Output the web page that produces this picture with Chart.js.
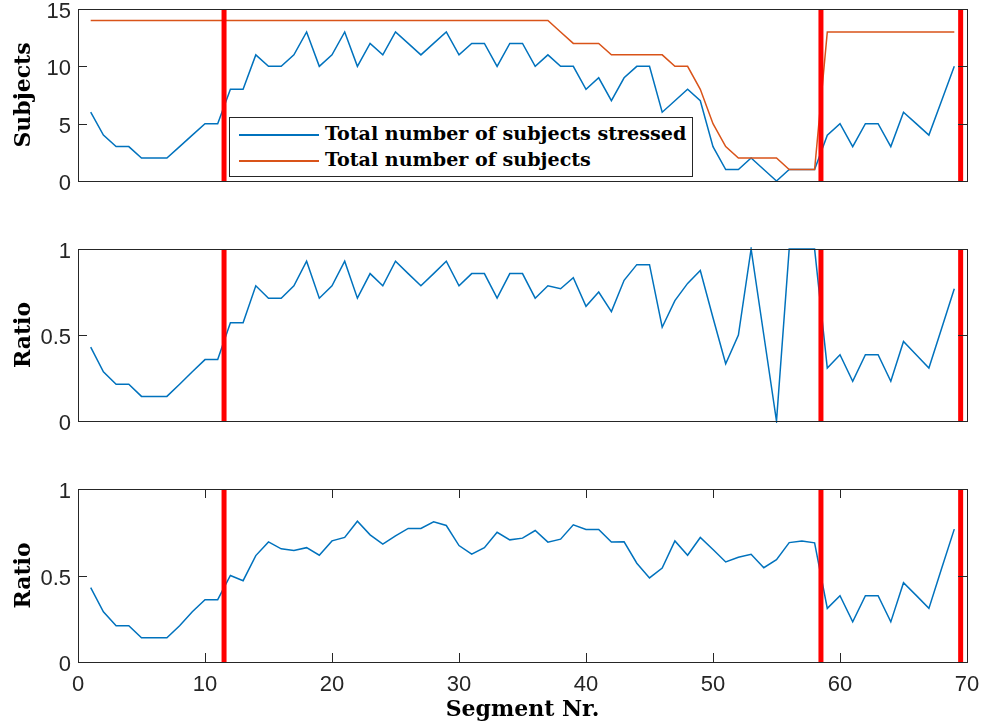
<!DOCTYPE html>
<html>
<head>
<meta charset="utf-8">
<script src="https://cdn.jsdelivr.net/npm/chart.js@4.4.1/dist/chart.umd.min.js"></script>
<style>
  html, body { margin: 0; padding: 0; background: #ffffff; }
  #wrap { position: relative; width: 982px; height: 727px; background: #ffffff; overflow: hidden; }
  #wrap canvas { position: absolute; left: 0; top: 0; }
  #legend { position: absolute; left: 229px; top: 117px; width: 464px; height: 60px;
            border: 1px solid #262626; background: #ffffff; box-sizing: border-box;
            font-family: 'DejaVu Serif', serif; font-weight: bold; font-size: 19.1px; color: #000; }
  #legend .ln { position: absolute; left: 9px; width: 80px; height: 1.5px; }
  #legend .tx { position: absolute; left: 95px; line-height: 22px; white-space: nowrap; }
</style>
</head>
<body>
<div id="wrap">
  <canvas id="c1" width="982" height="727"></canvas>
  <canvas id="c2" width="982" height="727"></canvas>
  <canvas id="c3" width="982" height="727"></canvas>
  <div id="legend">
    <div class="ln" style="top:16px;background:#0072BD"></div>
    <div class="tx" style="top:5px">Total number of subjects stressed</div>
    <div class="ln" style="top:42px;background:#D95319"></div>
    <div class="tx" style="top:31px">Total number of subjects</div>
  </div>
</div>
<script>
// ---------- DATA ----------
const segments = [1,2,3,4,5,6,7,8,9,10,11,12,13,14,15,16,17,18,19,20,21,22,23,24,25,26,27,28,29,30,31,32,33,34,35,36,37,38,39,40,41,42,43,44,45,46,47,48,49,50,51,52,53,54,55,56,57,58,59,60,61,62,63,64,65,66,67,68,69];
const subjectsStressed = [6,4,3,3,2,2,2,3,4,5,5,8,8,11,10,10,11,13,10,11,13,10,12,11,13,12,11,12,13,11,12,12,10,12,12,10,11,10,10,8,9,7,9,10,10,6,7,8,7,3,1,1,2,1,0,1,1,1,4,5,3,5,5,3,6,5,4,7,10];
const subjectsTotal = [14,14,14,14,14,14,14,14,14,14,14,14,14,14,14,14,14,14,14,14,14,14,14,14,14,14,14,14,14,14,14,14,14,14,14,14,14,13,12,12,12,11,11,11,11,11,10,10,8,5,3,2,2,2,2,1,1,1,13,13,13,13,13,13,13,13,13,13,13];
const ratioMiddle = [0.429,0.286,0.214,0.214,0.143,0.143,0.143,0.214,0.286,0.357,0.357,0.571,0.571,0.786,0.714,0.714,0.786,0.929,0.714,0.786,0.929,0.714,0.857,0.786,0.929,0.857,0.786,0.857,0.929,0.786,0.857,0.857,0.714,0.857,0.857,0.714,0.786,0.769,0.833,0.667,0.75,0.636,0.818,0.909,0.909,0.545,0.7,0.8,0.875,0.6,0.333,0.5,1,0.5,0,1,1,1,0.308,0.385,0.231,0.385,0.385,0.231,0.462,0.385,0.308,0.538,0.769];
const ratioBottom = [0.43,0.29,0.21,0.21,0.14,0.14,0.14,0.21,0.29,0.36,0.36,0.50,0.47,0.615,0.694,0.654,0.644,0.661,0.617,0.70,0.72,0.814,0.735,0.681,0.729,0.772,0.772,0.81,0.789,0.673,0.623,0.661,0.75,0.706,0.716,0.76,0.693,0.71,0.793,0.766,0.766,0.693,0.695,0.571,0.486,0.543,0.70,0.617,0.72,0.65,0.578,0.605,0.623,0.545,0.592,0.69,0.70,0.689,0.31,0.383,0.232,0.383,0.383,0.232,0.458,0.385,0.31,0.54,0.768];
const boundaries = [11.5, 58.5, 69.5];
const xTickValues = [0,10,20,30,40,50,60,70];
const labels = {
  top: 'Subjects', mid: 'Ratio', bot: 'Ratio', x: 'Segment Nr.',
  s1: 'Total number of subjects stressed', s2: 'Total number of subjects'
};

// ---------- STYLE ----------
const BLUE = '#0072BD', ORANGE = '#D95319', RED = '#FF0000', AX = '#262626';
const tickFont = { family: "'Liberation Sans', Arial, sans-serif", size: 22 };
const titleFont = { family: "'DejaVu Serif', serif", size: 22, weight: 'bold' };

const pts = (ys) => segments.map((x, i) => ({ x: x, y: ys[i] }));
const redSets = (ymin, ymax) => boundaries.map(b => ({
  label: 'boundary', data: [{ x: b, y: ymin }, { x: b, y: ymax }],
  borderColor: RED, borderWidth: 5, pointRadius: 0, order: 0, clip: false
}));

const boxPlugin = {
  id: 'boxAxes',
  afterDatasetsDraw(chart, args, opts) {
    const { ctx, chartArea: a } = chart;
    const L = Math.round(a.left), R = Math.round(a.right), T = Math.round(a.top), B = Math.round(a.bottom);
    ctx.save();
    ctx.strokeStyle = AX; ctx.lineWidth = 1;
    const seg = (x1, y1, x2, y2) => { ctx.beginPath(); ctx.moveTo(x1, y1); ctx.lineTo(x2, y2); ctx.stroke(); };
    ctx.strokeRect(L + 0.5, T + 0.5, R - L, B - T);
    const tl = 9;
    const ys = chart.scales.y;
    ys.ticks.forEach(t => {
      const py = Math.round(ys.getPixelForValue(t.value)) + 0.5;
      seg(L, py, L + tl, py); seg(R - tl, py, R, py);
    });
    if (opts && opts.xTicks) {
      const xs = chart.scales.x;
      xs.ticks.forEach(t => {
        const px = Math.round(xs.getPixelForValue(t.value)) + 0.5;
        seg(px, T, px, T + tl); seg(px, B - tl, px, B);
      });
    }
    ctx.restore();
  }
};

function yAxis(min, max, step, title) {
  return {
    type: 'linear', min: min, max: max, position: 'left',
    ticks: { stepSize: step, font: tickFont, color: AX, padding: 7, labelOffset: 3, callback: (v) => String(v) },
    grid: { display: false, drawTicks: false },
    border: { display: false },
    title: { display: true, text: title, font: titleFont, color: '#000', padding: { top: 11, bottom: 0 } },
    afterFit(s) { s.width = 78; s.paddingTop = 0; s.paddingBottom = 0; }
  };
}

function xAxis(show) {
  return {
    type: 'linear', min: 0, max: 70, display: show, position: 'bottom',
    afterBuildTicks(s) { s.ticks = xTickValues.map(v => ({ value: v })); },
    ticks: { font: tickFont, color: AX, padding: 10, maxRotation: 0, autoSkip: false, callback: (v) => String(v) },
    grid: { display: false, drawTicks: false },
    border: { display: false },
    title: { display: show, text: labels.x, font: titleFont, color: '#000', padding: { top: 0, bottom: 4 } },
    afterFit(s) { s.height = show ? 65 : 0; s.paddingLeft = 0; s.paddingRight = 0; }
  };
}

function makeChart(id, datasets, yCfg, showX, pad, xTicks) {
  return new Chart(document.getElementById(id), {
    type: 'line',
    data: { datasets: datasets },
    options: {
      responsive: false, animation: false, devicePixelRatio: 1,
      layout: { padding: pad },
      scales: { x: xAxis(showX), y: yCfg },
      plugins: { legend: { display: false }, tooltip: { enabled: false }, boxAxes: { xTicks: xTicks } },
      elements: { line: { tension: 0 }, point: { radius: 0 } }
    },
    plugins: [boxPlugin]
  });
}

makeChart('c1', [
  ...redSets(0, 15),
  { label: labels.s2, data: pts(subjectsTotal), borderColor: ORANGE, borderWidth: 1.5, pointRadius: 0, order: 1, clip: 2 },
  { label: labels.s1, data: pts(subjectsStressed), borderColor: BLUE, borderWidth: 1.5, pointRadius: 0, order: 2, clip: 2 }
], yAxis(0, 15, 5, labels.top), false, { left: 0, right: 15, top: 9, bottom: 546 }, false);

makeChart('c2', [
  ...redSets(0, 1),
  { label: 'ratio', data: pts(ratioMiddle), borderColor: BLUE, borderWidth: 1.5, pointRadius: 0, order: 2, clip: 2 }
], yAxis(0, 1, 0.5, labels.mid), false, { left: 0, right: 15, top: 249, bottom: 306 }, false);

makeChart('c3', [
  ...redSets(0, 1),
  { label: 'ratio', data: pts(ratioBottom), borderColor: BLUE, borderWidth: 1.5, pointRadius: 0, order: 2, clip: 2 }
], yAxis(0, 1, 0.5, labels.bot), true, { left: 0, right: 15, top: 489, bottom: 0 }, true);
</script>
</body>
</html>
